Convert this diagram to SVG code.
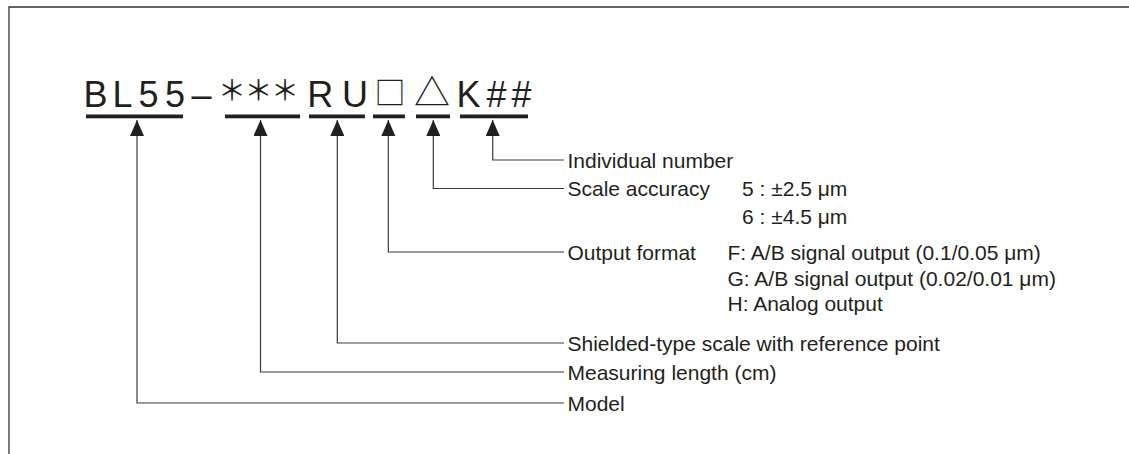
<svg xmlns="http://www.w3.org/2000/svg" width="1129" height="454" viewBox="0 0 1129 454">
<defs>
<style>
.lbl{font-family:"Liberation Sans",Arial,sans-serif;font-size:21px;fill:#231f20}
.code{font-family:"Liberation Sans",Arial,sans-serif;font-size:36px;fill:#231f20}
.sym{font-family:"Noto Sans CJK JP","DejaVu Sans",sans-serif;fill:#231f20}
.bar{fill:#231f20}
.conn{fill:none;stroke:#3a3a3a;stroke-width:1.2}
</style>
<marker id="arr" markerUnits="userSpaceOnUse" markerWidth="16" markerHeight="14" refX="16" refY="7" orient="auto">
<path d="M0,0 L16,7 L0,14 z" fill="#231f20"/>
</marker>
</defs>
<rect width="1129" height="454" fill="#fff"/>
<path d="M9,454 V7 H1129" fill="none" stroke="#333" stroke-width="1.3"/>

<g id="code">
<text class="code" x="83.5 112.5 138.5 165" y="107">BL55</text>
<text class="code" x="191.5" y="107">–</text>
<text class="sym" font-size="28" x="218 244.5 271" y="101">＊＊＊</text>
<text class="code" x="307.3 342" y="107">RU</text>
<text class="sym" font-size="31" x="374.5" y="104">□</text>
<text class="sym" font-size="36" x="414" y="106">△</text>
<text class="code" x="456.5 486.5 511.5" y="107">K##</text>
<rect class="bar" x="86" y="114.5" width="97" height="3.8"/>
<rect class="bar" x="225" y="114.5" width="75" height="3.8"/>
<rect class="bar" x="309" y="114.5" width="56" height="3.8"/>
<rect class="bar" x="373" y="114.5" width="32" height="3.8"/>
<rect class="bar" x="416" y="114.5" width="34" height="3.8"/>
<rect class="bar" x="460" y="114.5" width="68" height="3.8"/>
</g>

<g id="connectors">
<path class="conn" d="M564,160 H492.7 V120" marker-end="url(#arr)"/>
<path class="conn" d="M564,188.5 H433.3 V120" marker-end="url(#arr)"/>
<path class="conn" d="M564,252 H388.3 V120" marker-end="url(#arr)"/>
<path class="conn" d="M564,343 H337.3 V120" marker-end="url(#arr)"/>
<path class="conn" d="M564,372 H260.5 V120" marker-end="url(#arr)"/>
<path class="conn" d="M564,403 H137 V120" marker-end="url(#arr)"/>
</g>

<g id="individual-number"><text class="lbl" x="567.5" y="168">Individual number</text></g>
<g id="scale-accuracy">
<text class="lbl" x="567.5" y="196">Scale accuracy</text>
<text class="lbl" x="742" y="196">5 : ±2.5 μm</text>
<text class="lbl" x="742" y="224">6 : ±4.5 μm</text>
</g>
<g id="output-format">
<text class="lbl" x="567.5" y="260">Output format</text>
<text class="lbl" x="727.5" y="260">F: A/B signal output (0.1/0.05 μm)</text>
<text class="lbl" x="727.5" y="286">G: A/B signal output (0.02/0.01 μm)</text>
<text class="lbl" x="727.5" y="311">H: Analog output</text>
</g>
<g id="shielded"><text class="lbl" x="567.5" y="351">Shielded-type scale with reference point</text></g>
<g id="measuring-length"><text class="lbl" x="567.5" y="380">Measuring length (cm)</text></g>
<g id="model"><text class="lbl" x="567.5" y="411">Model</text></g>
</svg>
